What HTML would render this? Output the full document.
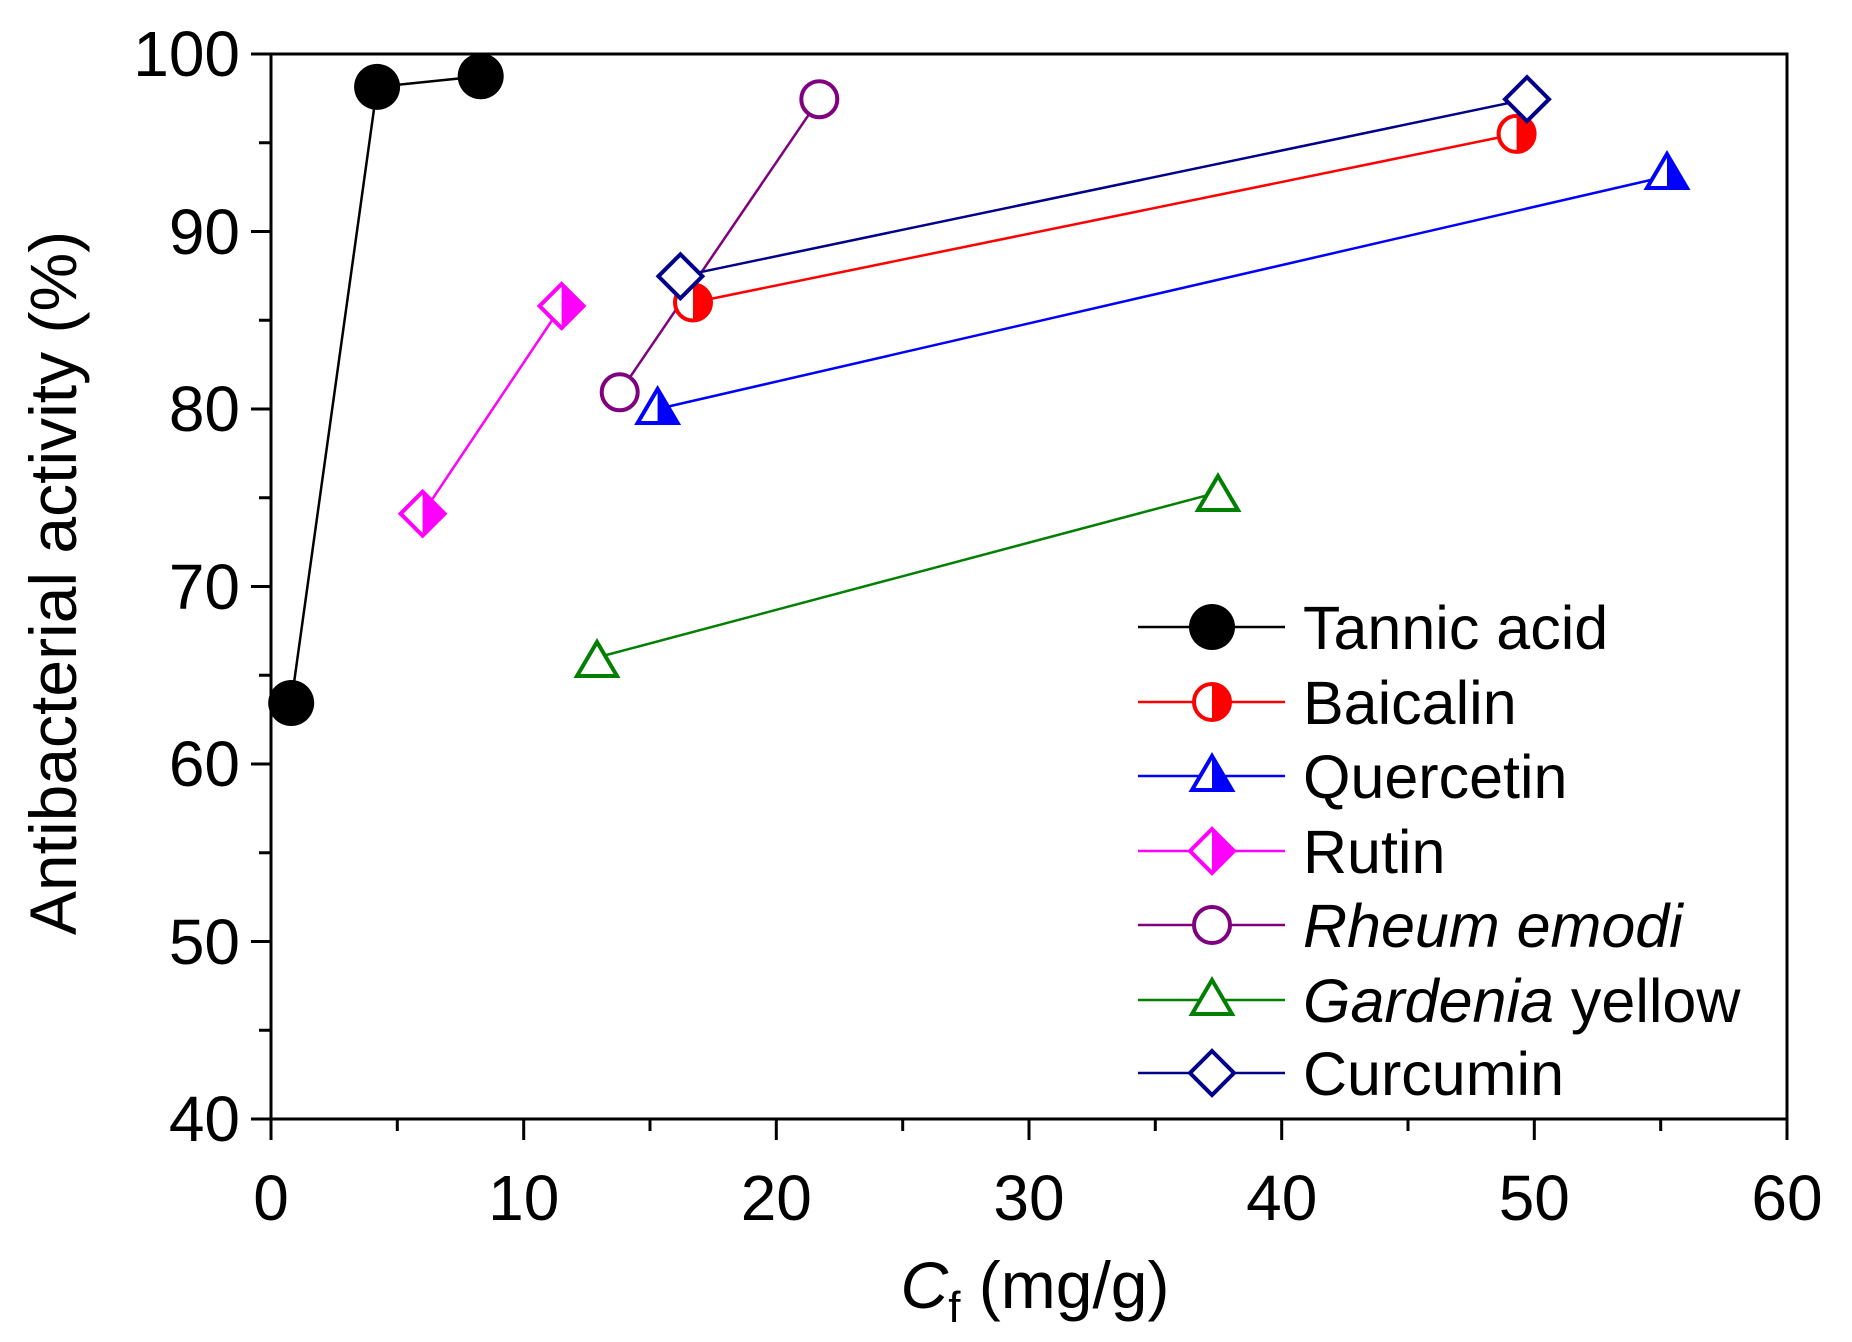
<!DOCTYPE html>
<html><head><style>html,body{margin:0;padding:0;background:#fff}svg{display:block}</style></head><body>
<svg width="1852" height="1342" viewBox="0 0 1852 1342" xmlns="http://www.w3.org/2000/svg" font-family="Liberation Sans, Arial, sans-serif">
<defs>
<clipPath id="rh"><rect x="0" y="-50" width="50" height="100"/></clipPath>
</defs>
<rect width="1852" height="1342" fill="#fff"/>
<g stroke="#000" stroke-width="3" fill="none">
<rect x="271" y="54" width="1516" height="1065"/>
<path d="M251 54H271M251 231.5H271M251 409H271M251 586.5H271M251 764H271M251 941.5H271M251 1119H271"/>
<path d="M259 142.75H271M259 320.25H271M259 497.75H271M259 675.25H271M259 852.75H271M259 1030.25H271"/>
<path d="M271 1119V1140M523.7 1119V1140M776.3 1119V1140M1029 1119V1140M1281.7 1119V1140M1534.3 1119V1140M1787 1119V1140"/>
<path d="M397.3 1119V1131M650 1119V1131M902.7 1119V1131M1155.3 1119V1131M1408 1119V1131M1660.7 1119V1131"/>
</g>
<g font-size="64" fill="#000" text-anchor="end">
<text x="240" y="76">100</text><text x="240" y="254">90</text><text x="240" y="431">80</text>
<text x="240" y="609">70</text><text x="240" y="786">60</text><text x="240" y="964">50</text><text x="240" y="1141">40</text>
</g>
<g font-size="64" fill="#000" text-anchor="middle">
<text x="271" y="1220">0</text><text x="523.7" y="1220">10</text><text x="776.3" y="1220">20</text><text x="1029" y="1220">30</text>
<text x="1281.7" y="1220">40</text><text x="1534.3" y="1220">50</text><text x="1787" y="1220">60</text>
</g>
<text transform="translate(76,583) rotate(-90)" font-size="66" text-anchor="middle">Antibacterial activity (%)</text>
<text x="1035" y="1308" font-size="66" text-anchor="middle"><tspan font-style="italic">C</tspan><tspan font-size="44" dy="14">f</tspan><tspan dy="-14"> (mg/g)</tspan></text>

<g fill="none" stroke-width="2.5">
<polyline stroke="#000" points="291.2,703 377.1,86.9 480.7,76.2"/>
<polyline stroke="#f0f" points="422.6,513.7 561.6,306"/>
<polyline stroke="#800080" points="619.7,392.3 819.3,99.2"/>
<polyline stroke="#f00" points="693,302.5 1516.6,133.9"/>
<polyline stroke="#00f" points="657.6,409 1665.9,176.5"/>
<polyline stroke="#00008b" points="680.4,276.3 1526.9,99.2"/>
<polyline stroke="#008000" points="597,657.5 1218,492.4"/>
</g>
<g>
<circle cx="291.2" cy="703" r="23" fill="#000"/><circle cx="377.1" cy="86.9" r="23" fill="#000"/><circle cx="480.7" cy="76.2" r="23" fill="#000"/>
<g transform="translate(422.6,513.7)"><path d="M0,-22L22,0 0,22 -22,0Z" fill="#fff" stroke="#f0f" stroke-width="4"/><path d="M0,-22L22,0 0,22Z" fill="#f0f"/></g>
<g transform="translate(561.6,306)"><path d="M0,-22L22,0 0,22 -22,0Z" fill="#fff" stroke="#f0f" stroke-width="4"/><path d="M0,-22L22,0 0,22Z" fill="#f0f"/></g>
<circle cx="619.7" cy="392.3" r="18" fill="#fff" stroke="#800080" stroke-width="4"/>
<circle cx="819.3" cy="99.2" r="18" fill="#fff" stroke="#800080" stroke-width="4"/>
<g transform="translate(693,302.5)"><circle r="18" fill="#fff" stroke="#f00" stroke-width="4"/><circle r="18" fill="#f00" clip-path="url(#rh)"/></g>
<g transform="translate(1516.6,133.9)"><circle r="18" fill="#fff" stroke="#f00" stroke-width="4"/><circle r="18" fill="#f00" clip-path="url(#rh)"/></g>
<g transform="translate(657.6,409)"><path d="M0,-20L20,14 -20,14Z" fill="#fff" stroke="#00f" stroke-width="4"/><path d="M0,-20L20,14 0,14Z" fill="#00f"/></g>
<g transform="translate(1667,174)"><path d="M0,-20L20,14 -20,14Z" fill="#fff" stroke="#00f" stroke-width="4"/><path d="M0,-20L20,14 0,14Z" fill="#00f"/></g>
<path d="M680.4,254.3L702.4,276.3 680.4,298.3 658.4,276.3Z" fill="#fff" stroke="#00008b" stroke-width="4"/>
<path d="M1527,77.2L1549,99.2 1527,121.2 1505,99.2Z" fill="#fff" stroke="#00008b" stroke-width="4"/>
<path d="M597,642L617,676 577,676Z" fill="#fff" stroke="#008000" stroke-width="4"/>
<path d="M1218,476L1238,510 1198,510Z" fill="#fff" stroke="#008000" stroke-width="4"/>
</g>

<g stroke-width="2.5">
<line x1="1138" y1="627" x2="1285" y2="627" stroke="#000"/><circle cx="1212" cy="627" r="23" fill="#000"/>
<line x1="1138" y1="702" x2="1285" y2="702" stroke="#f00"/>
<g transform="translate(1212,702)"><circle r="18" fill="#fff" stroke="#f00" stroke-width="4"/><circle r="18" fill="#f00" clip-path="url(#rh)"/></g>
<line x1="1138" y1="776" x2="1285" y2="776" stroke="#00f"/>
<g transform="translate(1212,776)"><path d="M0,-20L20,14 -20,14Z" fill="#fff" stroke="#00f" stroke-width="4"/><path d="M0,-20L20,14 0,14Z" fill="#00f"/></g>
<line x1="1138" y1="851" x2="1285" y2="851" stroke="#f0f"/>
<g transform="translate(1212,851)"><path d="M0,-22L22,0 0,22 -22,0Z" fill="#fff" stroke="#f0f" stroke-width="4"/><path d="M0,-22L22,0 0,22Z" fill="#f0f"/></g>
<line x1="1138" y1="925" x2="1285" y2="925" stroke="#800080"/><circle cx="1212" cy="925" r="18" fill="#fff" stroke="#800080" stroke-width="4"/>
<line x1="1138" y1="1000" x2="1285" y2="1000" stroke="#008000"/><path d="M1212,980L1232,1014 1192,1014Z" fill="#fff" stroke="#008000" stroke-width="4"/>
<line x1="1138" y1="1073" x2="1285" y2="1073" stroke="#00008b"/><path d="M1212,1051L1234,1073 1212,1095 1190,1073Z" fill="#fff" stroke="#00008b" stroke-width="4"/>
</g>
<g font-size="61" fill="#000">
<text x="1303" y="649">Tannic acid</text>
<text x="1303" y="724">Baicalin</text>
<text x="1303" y="798">Quercetin</text>
<text x="1303" y="873">Rutin</text>
<text x="1303" y="947" font-style="italic">Rheum emodi</text>
<text x="1303" y="1022"><tspan font-style="italic">Gardenia</tspan> yellow</text>
<text x="1303" y="1095">Curcumin</text>
</g>
</svg>
</body></html>
